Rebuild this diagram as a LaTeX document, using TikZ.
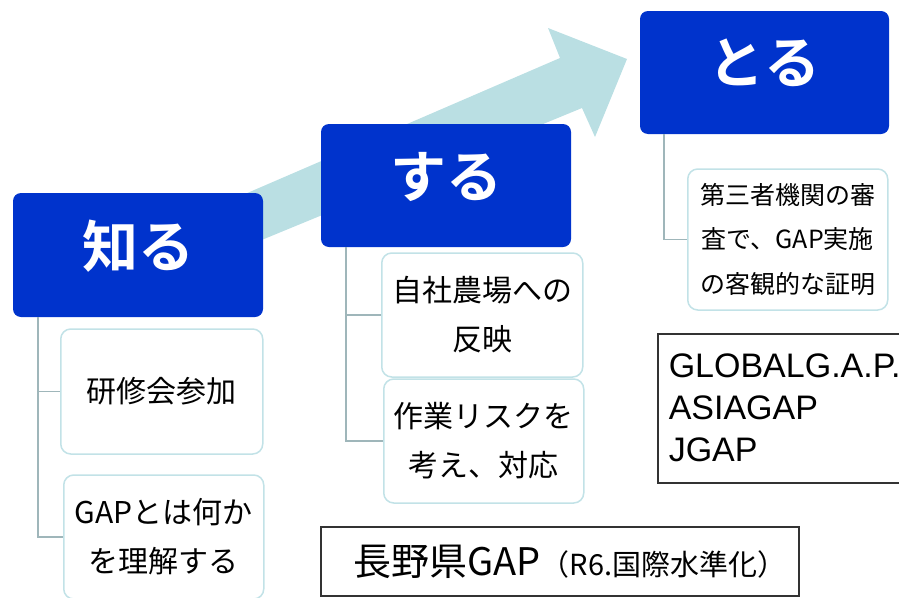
\documentclass[tikz,border=0pt]{standalone}
\usepackage{fontspec}
\setmainfont{Noto Sans CJK JP}[BoldFont={Noto Sans CJK JP Bold}]
\newfontfamily\latinfont{Liberation Sans}
\definecolor{headblue}{HTML}{0033CC}
\definecolor{arrowteal}{HTML}{BADFE3}
\definecolor{boxteal}{HTML}{C2E2E7}
\definecolor{linkgray}{HTML}{9FB6BA}

\begin{document}
\begin{tikzpicture}[x=1pt, y=-1pt,
	headbox/.style={fill=headblue, rounded corners=8pt, minimum width=250pt, minimum height=124pt, inner sep=0pt, text=white, font=\bfseries\fontsize{56}{60}\selectfont, text depth=22pt},
	itembox/.style={draw=boxteal, line width=1.5pt, fill=white, rounded corners=10pt, minimum width=200pt, minimum height=124pt, inner sep=0pt, align=center, font=\fontsize{30}{49}\selectfont},
	link/.style={draw=linkgray, line width=1.5pt},
	plainbox/.style={draw=black!80, line width=1.5pt, inner sep=0pt}]
		\useasboundingbox (0,0) rectangle (899,597);
		\fill[arrowteal] (150,235) -- (560,58) -- (548,28) -- (627,59) -- (595,137) -- (582,108) -- (150,286) -- cycle; % Pfeil
		
		\node[headbox] (shiru) at (138,255) {知る};
		\node[headbox, minimum height=123pt] (suru) at (446,185.5) {する};
		\node[headbox, minimum width=249pt, minimum height=123pt] (toru) at (764.5,72.5) {とる};
		
		\draw[link] (shiru.south west) ++(25,0) |- (60,391.5) coordinate (kenshuin); % Verbindungslinien
		\draw[link] (shiru.south west) ++(25,0) |- (63,537) coordinate (rikaiin);
		\draw[link] (suru.south west) ++(25,0) |- (381,315) coordinate (jishain);
		\draw[link] (suru.south west) ++(25,0) |- (383,441) coordinate (sagyoin);
		\draw[link] (toru.south west) ++(24,0) |- (687,239.5) coordinate (daisanin);
		
		\node[itembox, minimum width=202pt, minimum height=125pt, anchor=west] (kenshu) at (kenshuin) {研修会参加};
		\node[itembox, anchor=west] (rikai) at (rikaiin) {GAPとは何か\\を理解する};
		\node[itembox, minimum width=201pt, anchor=west] (jisha) at (jishain) {自社農場への\\反映};
		\node[itembox, anchor=west] (sagyo) at (sagyoin) {作業リスクを\\考え、対応};
		\node[itembox, minimum height=141pt, anchor=west, font=\fontsize{25}{44.5}\selectfont] (daisan) at (daisanin) {第三者機関の審\\査で、GAP実施\\の客観的な証明};
		
		\node[plainbox, anchor=north west, minimum height=149pt, text width=249pt, inner xsep=11pt, align=left, font=\latinfont\fontsize{34}{42}\selectfont] (schemes) at (657,333) {GLOBALG.A.P.\\ASIAGAP\\JGAP};
		\node[plainbox, minimum width=478pt, minimum height=69pt] (nagano) at (560,561.5) {\hspace*{20pt}\fontsize{38}{40}\selectfont 長野県GAP\fontsize{29}{30}\selectfont（R6.国際水準化）};
	\end{tikzpicture}
\end{document}
